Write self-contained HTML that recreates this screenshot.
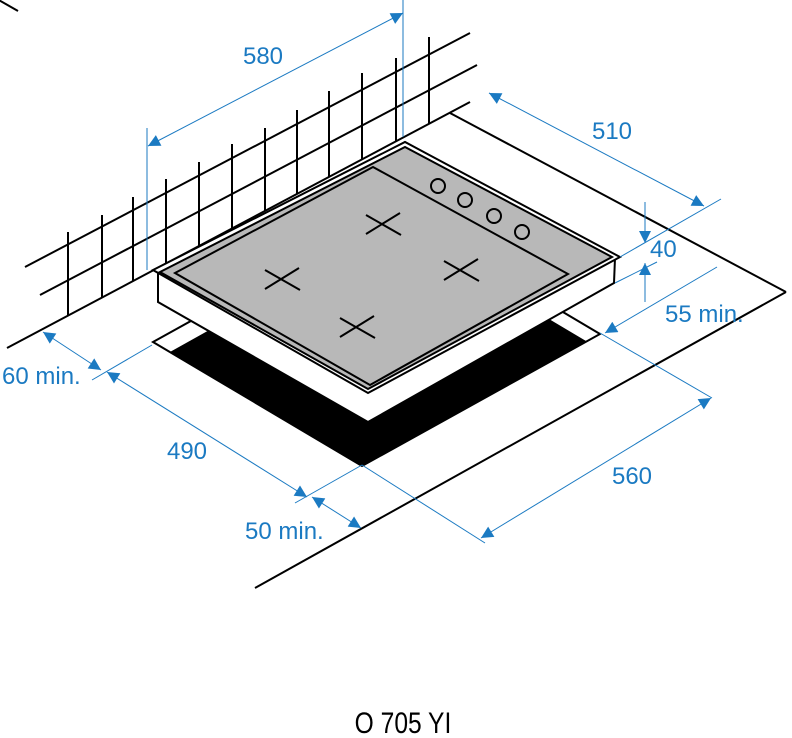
<!DOCTYPE html>
<html><head><meta charset="utf-8"><style>
html,body{margin:0;padding:0;background:#fff;}
svg{display:block;}
text{font-family:"Liberation Sans",sans-serif;fill:#1b7ac2;font-size:24px;}
</style></head><body>
<svg width="792" height="738" viewBox="0 0 792 738" xmlns="http://www.w3.org/2000/svg">
<defs>
<marker id="a" viewBox="0 0 10 10" refX="10" refY="5" markerWidth="16" markerHeight="12" markerUnits="userSpaceOnUse" orient="auto-start-reverse"><path d="M0,0 L10,5 L0,10 z" fill="#1b7ac2"/></marker>
</defs>
<g stroke="#000" stroke-width="2" fill="none">
<line x1="25" y1="267" x2="470" y2="33"/>
<line x1="40" y1="295" x2="477" y2="65"/>
<line x1="7" y1="348" x2="470" y2="102"/>
<line x1="68" y1="232" x2="68" y2="316"/>
<line x1="102" y1="215" x2="102" y2="298"/>
<line x1="133" y1="197" x2="133" y2="281"/>
<line x1="166" y1="179" x2="166" y2="264"/>
<line x1="199" y1="162" x2="199" y2="246"/>
<line x1="232" y1="144" x2="232" y2="229"/>
<line x1="265" y1="128" x2="265" y2="211"/>
<line x1="297" y1="110" x2="297" y2="194"/>
<line x1="329" y1="91" x2="329" y2="177"/>
<line x1="362" y1="73" x2="362" y2="160"/>
<line x1="396" y1="58" x2="396" y2="142"/>
<line x1="429" y1="37" x2="429" y2="124"/>
<line x1="450" y1="113" x2="786" y2="292"/>
<line x1="786" y1="292" x2="255" y2="588"/>
<polygon points="153,342 391,210 600,334 362,466" fill="#fff"/>
<polygon points="172,352 394,228 584,341 362,465" fill="#000"/>
<polygon points="158,272 405,142 615,258 614,283 368,422 158,302" fill="#fff"/>
<polygon points="153,270 405,142 620,257 368,393" fill="#fff"/>
<polygon points="160,272 405,147 612,257 368,389" fill="#b8b8b8"/>
<polygon points="175,273 373,167 568,274 370,385"/>
<circle cx="438" cy="186" r="7"/>
<circle cx="465" cy="200" r="7"/>
<circle cx="494" cy="216" r="7"/>
<circle cx="522" cy="232" r="7"/>
<g id="c"><line x1="-17" y1="-9" x2="18" y2="11"/><line x1="-17" y1="10" x2="17" y2="-11"/></g>
<use href="#c" x="383" y="224"/>
<use href="#c" x="282" y="279"/>
<use href="#c" x="461" y="270"/>
<use href="#c" x="357" y="327"/>
</g>
<g stroke="#1b7ac2" stroke-width="1" fill="none">
<line x1="147" y1="128" x2="147" y2="270"/>
<line x1="403" y1="0" x2="403" y2="137"/>
<line x1="148" y1="146" x2="403" y2="13" marker-start="url(#a)" marker-end="url(#a)"/>
<line x1="489" y1="93" x2="704" y2="206" marker-start="url(#a)" marker-end="url(#a)"/>
<line x1="620" y1="257" x2="721" y2="199"/>
<line x1="615" y1="283" x2="657" y2="262"/>
<line x1="645" y1="202" x2="645" y2="243" marker-end="url(#a)"/>
<line x1="645" y1="302" x2="645" y2="263" marker-end="url(#a)"/>
<line x1="717" y1="267" x2="605" y2="333" marker-end="url(#a)"/>
<line x1="600" y1="333" x2="712" y2="398"/>
<line x1="362" y1="465" x2="485" y2="543"/>
<line x1="711" y1="398" x2="481" y2="538" marker-start="url(#a)" marker-end="url(#a)"/>
<line x1="92" y1="380" x2="152" y2="345"/>
<line x1="295" y1="503" x2="362" y2="465"/>
<line x1="107" y1="372" x2="307" y2="497" marker-start="url(#a)" marker-end="url(#a)"/>
<line x1="43" y1="332" x2="101" y2="370" marker-start="url(#a)" marker-end="url(#a)"/>
<line x1="312" y1="497" x2="361" y2="528" marker-start="url(#a)" marker-end="url(#a)"/>
</g>
<text x="263" y="64" text-anchor="middle">580</text>
<text x="612" y="139" text-anchor="middle">510</text>
<text x="650" y="257">40</text>
<text x="665" y="322">55 min.</text>
<text x="632" y="484" text-anchor="middle">560</text>
<text x="187" y="459" text-anchor="middle">490</text>
<text x="2" y="384">60 min.</text>
<text x="245" y="539">50 min.</text>
<text x="403" y="733" text-anchor="middle" style="fill:#000;font-size:30px" transform="translate(403,0) scale(0.82,1) translate(-403,0)">O 705 YI</text>
</svg>
</body></html>
